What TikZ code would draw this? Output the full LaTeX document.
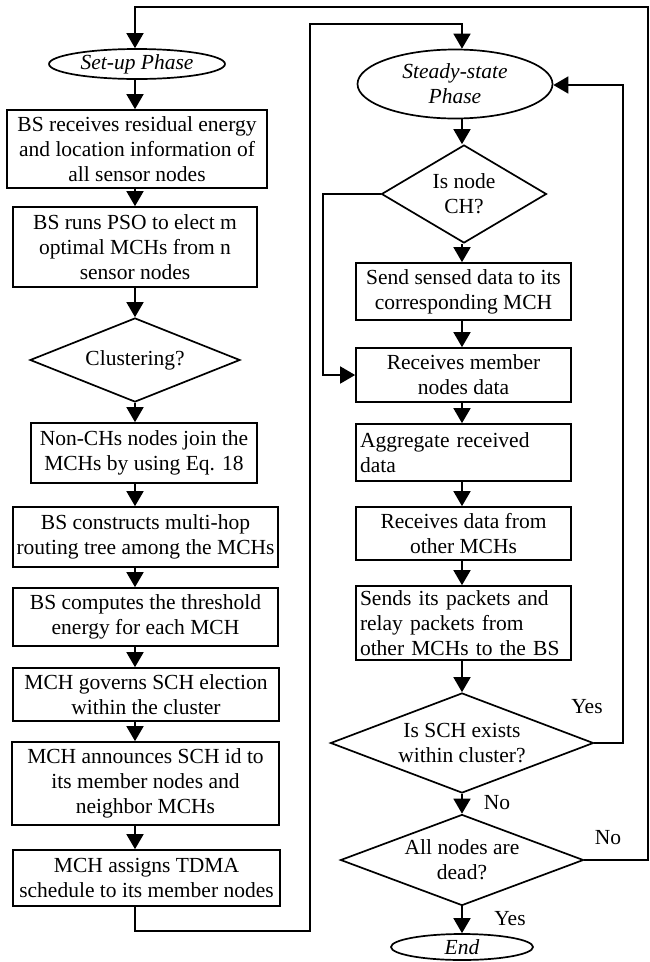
\documentclass[tikz,border=0pt]{standalone}
\usepackage{fontspec}
\setmainfont{Liberation Serif}
\usetikzlibrary{shapes.geometric,arrows.meta}
\begin{document}
\begin{tikzpicture}[x=1pt,y=-1pt,
  every node/.style={font=\fontsize{21.5}{25}\selectfont},
  box/.style={draw,line width=1.7pt,rectangle,inner sep=2pt,align=center},
  lbox/.style={draw,line width=1.7pt,rectangle,inner sep=3pt,align=left},
  dia/.style={draw,line width=1.7pt,diamond,inner sep=0pt,align=center},
  oval/.style={draw,line width=1.7pt,ellipse,inner sep=0pt,align=center,font=\fontsize{21.5}{25}\selectfont\itshape},
  line/.style={line width=1.7pt},
  arr/.style={line width=1.7pt,-{Triangle[width=17pt,length=15pt]}},
  lbl/.style={inner sep=0pt}]
\useasboundingbox (0,0) rectangle (649,962);
\fill[white] (0,0) rectangle (649,962);
\coordinate (lx) at (135,0);
\coordinate (rx) at (462,0);
% left column
\node[oval,minimum width=176pt,minimum height=30pt] (e1) at (137,64) {Set-up Phase};
\node[box,minimum width=260pt,minimum height=78pt] (b1) at (137,149) {BS receives residual energy\\and location information of\\all sensor nodes};
\node[box,minimum width=244pt,minimum height=80pt] (b2) at (135,247) {BS runs PSO to elect m\\optimal MCHs from n\\sensor nodes};
\node[dia,minimum width=210pt,minimum height=84pt,aspect=2.5] (d1) at (135,360) {Clustering?};
\node[box,minimum width=226pt,minimum height=60pt] (b3) at (144,453) {Non-CHs nodes join the\\MCHs by using Eq. 18};
\node[box,minimum width=265pt,minimum height=60pt] (b4) at (145.5,537) {BS constructs multi-hop\\routing tree among the MCHs};
\node[box,minimum width=265pt,minimum height=58pt] (b5) at (145.5,617) {BS computes the threshold\\energy for each MCH};
\node[box,minimum width=266pt,minimum height=53pt] (b6) at (146,694.5) {MCH governs SCH election\\within the cluster};
\node[box,minimum width=267pt,minimum height=83pt] (b7) at (145.5,783.5) {MCH announces SCH id to\\its member nodes and\\neighbor MCHs};
\node[box,minimum width=267pt,minimum height=56pt] (b8) at (146.5,878) {MCH assigns TDMA\\schedule to its member nodes};
% right column
\node[oval,minimum width=195pt,minimum height=69pt] (e2) at (455,84) {Steady-state\\Phase};
\node[dia,minimum width=165pt,minimum height=98pt,aspect=1.7] (d2) at (464,194) {Is node\\CH?};
\node[box,minimum width=215pt,minimum height=57pt] (r1) at (463.5,291.5) {Send sensed data to its\\corresponding MCH};
\node[box,minimum width=215pt,minimum height=54pt] (r2) at (463.5,375) {Receives member\\nodes data};
\node[lbox,minimum width=215pt,minimum height=57pt,text width=207pt] (r3) at (463.5,452.5) {Aggregate received\\data};
\node[box,minimum width=215pt,minimum height=53pt] (r4) at (463.5,533.5) {Receives data from\\other MCHs};
\node[lbox,minimum width=215pt,minimum height=74pt,text width=207pt] (r5) at (463.5,623) {Sends its packets and\\relay packets from\\other MCHs to the BS};
\node[dia,minimum width=263pt,minimum height=100pt,aspect=2.6] (d3) at (462,743) {Is SCH exists\\within cluster?};
\node[dia,minimum width=243pt,minimum height=91pt,aspect=2.7] (d4) at (462,860) {All nodes are\\dead?};
\node[oval,minimum width=142pt,minimum height=26pt] (e3) at (462,947) {End};
% labels
\node[lbl] (y1) at (587,707) {Yes};
\node[lbl] (n1) at (497,803) {No};
\node[lbl] (n2) at (608,838) {No};
\node[lbl] (y2) at (510,919) {Yes};
% connectors left
\coordinate (t1) at (648,860);
\coordinate (t2) at (648,7);
\coordinate (t3) at (135,7);
\draw[arr] (d4.east) -- (t1) -- (t2) -- (t3) -- (e1.north -| lx);
\draw[arr] (e1.south -| lx) -- (b1.north -| lx);
\draw[arr] (b1.south -| lx) -- (b2.north -| lx);
\draw[arr] (b2.south -| lx) -- (d1.north);
\draw[arr] (d1.south) -- (b3.north -| lx);
\draw[arr] (b3.south -| lx) -- (b4.north -| lx);
\draw[arr] (b4.south -| lx) -- (b5.north -| lx);
\draw[arr] (b5.south -| lx) -- (b6.north -| lx);
\draw[arr] (b6.south -| lx) -- (b7.north -| lx);
\draw[arr] (b7.south -| lx) -- (b8.north -| lx);
\coordinate (u1) at (135,931);
\coordinate (u2) at (310,931);
\coordinate (u3) at (310,24);
\coordinate (u4) at (462,24);
\draw[arr] (b8.south -| lx) -- (u1) -- (u2) -- (u3) -- (u4) -- (e2.north -| rx);
% connectors right
\draw[arr] (e2.south -| rx) -- (d2.north -| rx);
\draw[arr] (d2.south -| rx) -- (r1.north -| rx);
\draw[arr] (r1.south -| rx) -- (r2.north -| rx);
\coordinate (v1) at (323,194);
\coordinate (v2) at (323,375);
\draw[arr] (d2.west) -- (v1) -- (v2) -- (r2.west);
\draw[arr] (r2.south -| rx) -- (r3.north -| rx);
\draw[arr] (r3.south -| rx) -- (r4.north -| rx);
\draw[arr] (r4.south -| rx) -- (r5.north -| rx);
\draw[arr] (r5.south -| rx) -- (d3.north);
\draw[arr] (d3.south) -- (d4.north);
\draw[arr] (d4.south) -- (e3.north);
\coordinate (w1) at (623,743);
\coordinate (w2) at (623,85);
\draw[arr] (d3.east) -- (w1) -- (w2) -- (e2.east |- w2);
\end{tikzpicture}
\end{document}
